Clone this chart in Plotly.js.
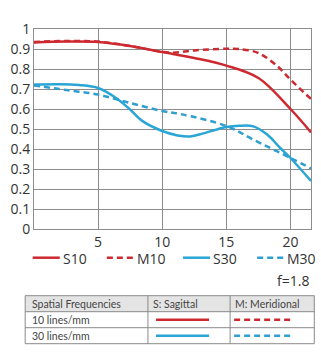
<!DOCTYPE html>
<html><head><meta charset="utf-8">
<script src="https://cdn.plot.ly/plotly-3.0.1.min.js"></script>
<style>body{margin:0;background:#fff}#c{width:321px;height:356px}</style>
</head><body><div id="c"></div>
<script>
// Data
const xS10 = [0, 2.5, 5, 7.5, 10, 12.5, 15, 17.5, 20, 21.6];
const yS10 = [0.933, 0.937, 0.935, 0.915, 0.885, 0.855, 0.817, 0.755, 0.6, 0.483];
const xM10 = [0, 2.5, 5, 7.5, 10, 11, 12.5, 15, 16, 17.5, 19, 20, 21.6];
const yM10 = [0.935, 0.94, 0.937, 0.915, 0.886, 0.882, 0.893, 0.901, 0.9, 0.88, 0.813, 0.747, 0.65];
const xS30 = [0, 2, 3.5, 5, 6.4, 7.5, 8.5, 10, 11.2, 12.2, 13.2, 15, 16, 17.1, 18.2, 19.2, 20, 21.6];
const yS30 = [0.722, 0.724, 0.72, 0.705, 0.655, 0.597, 0.538, 0.49, 0.468, 0.463, 0.478, 0.51, 0.516, 0.513, 0.471, 0.405, 0.355, 0.24];
const xM30 = [0, 2.5, 5, 7.5, 10, 11.4, 15, 17.1, 20, 21.6];
const yM30 = [0.718, 0.695, 0.672, 0.63, 0.59, 0.575, 0.515, 0.447, 0.355, 0.303];
const seriesNames = ['S10', 'M10', 'S30', 'M30'];
const xTicks = [5, 10, 15, 20];
const yTicks = [0, 0.1, 0.2, 0.3, 0.4, 0.5, 0.6, 0.7, 0.8, 0.9, 1];
const yTickText = ['0', '0.1', '0.2', '0.3', '0.4', '0.5', '0.6', '0.7', '0.8', '0.9', '1'];
const tableHeader = ['Spatial Frequencies', 'S: Sagittal', 'M: Meridional'];
const tableRows = ['10 lines/mm', '30 lines/mm'];
const apertureLabel = 'f=1.8';

const RED = '#cc2a30', BLUE = '#2aa6d6', BLUE2 = '#2f9fcf';
const DASH = '6px,4px';
const styles = [
  {color: RED, dash: 'solid'}, {color: RED, dash: DASH},
  {color: BLUE, dash: 'solid'}, {color: BLUE2, dash: DASH}
];
const xs = [xS10, xM10, xS30, xM30], ys = [yS10, yM10, yS30, yM30];

const traces = seriesNames.map((n, i) => ({
  x: xs[i], y: ys[i], name: n, type: 'scatter', mode: 'lines',
  line: {color: styles[i].color, dash: styles[i].dash, width: 2.5, shape: 'spline', smoothing: 1},
  showlegend: false, hoverinfo: 'skip'
}));

// pixel -> paper helpers for decorations
const L = 34.3, R = 310.7, T = 29.3, B = 229.3;
const PX = p => (p - L) / (R - L);
const PY = p => (B - p) / (B - T);
const FONT = '"Open Sans", sans-serif';
const TFONT = 'Lato, sans-serif';

const shapes = [], annotations = [];
// legend
const legX = [33, 107, 183, 257];
seriesNames.forEach((n, i) => {
  shapes.push({type: 'line', xref: 'paper', yref: 'paper', x0: PX(legX[i]), x1: PX(legX[i] + 27),
    y0: PY(258), y1: PY(258), line: {color: styles[i].color, width: 2.5, dash: styles[i].dash}});
  annotations.push({xref: 'paper', yref: 'paper', x: PX(legX[i] + 28), y: PY(258.5), xanchor: 'left', yanchor: 'middle',
    text: n, showarrow: false, font: {family: FONT, size: 14, color: '#333'}});
});
annotations.push({xref: 'paper', yref: 'paper', x: PX(311), y: PY(281), xanchor: 'right', yanchor: 'middle',
  text: apertureLabel, showarrow: false, font: {family: FONT, size: 14, color: '#333'}});

// table
const tL = 25.5, tR = 314, tT = 296, rowH = 16, c1 = 148, c2 = 230;
shapes.push({type: 'rect', xref: 'paper', yref: 'paper', x0: PX(tL), x1: PX(tR), y0: PY(tT), y1: PY(tT + rowH),
  fillcolor: '#e4e4e4', line: {width: 0}, layer: 'below'});
shapes.push({type: 'rect', xref: 'paper', yref: 'paper', x0: PX(tL), x1: PX(tR), y0: PY(tT), y1: PY(tT + 3 * rowH),
  line: {color: '#8a8a8a', width: 1}});
[1, 2].forEach(r => shapes.push({type: 'line', xref: 'paper', yref: 'paper', x0: PX(tL), x1: PX(tR),
  y0: PY(tT + r * rowH), y1: PY(tT + r * rowH), line: {color: '#8a8a8a', width: 1}}));
[c1, c2].forEach(c => shapes.push({type: 'line', xref: 'paper', yref: 'paper', x0: PX(c), x1: PX(c),
  y0: PY(tT), y1: PY(tT + 3 * rowH), line: {color: '#8a8a8a', width: 1}}));
const colTextX = [30, 151, 233];
tableHeader.forEach((t, i) => annotations.push({xref: 'paper', yref: 'paper', x: PX(colTextX[i]), y: PY(tT + rowH / 2),
  xanchor: 'left', yanchor: 'middle', text: t, showarrow: false, font: {family: TFONT, size: 10.5, color: '#444'}}));
tableRows.forEach((t, r) => {
  const cy = tT + (r + 1.5) * rowH;
  annotations.push({xref: 'paper', yref: 'paper', x: PX(30), y: PY(cy), xanchor: 'left', yanchor: 'middle',
    text: t, showarrow: false, font: {family: TFONT, size: 10.5, color: '#444'}});
  const sS = styles[r * 2], sM = styles[r * 2 + 1];
  shapes.push({type: 'line', xref: 'paper', yref: 'paper', x0: PX(156), x1: PX(209), y0: PY(cy), y1: PY(cy),
    line: {color: sS.color, width: 2.5, dash: 'solid'}});
  shapes.push({type: 'line', xref: 'paper', yref: 'paper', x0: PX(234), x1: PX(292), y0: PY(cy), y1: PY(cy),
    line: {color: sM.color, width: 2.5, dash: DASH}});
});

const layout = {
  width: 321, height: 356,
  margin: {l: L, r: 321 - R, t: T, b: 356 - B, pad: 0},
  paper_bgcolor: '#fff', plot_bgcolor: '#fff',
  xaxis: {range: [0, 21.6], tickvals: xTicks, ticktext: xTicks.map(String), showgrid: true, gridcolor: '#8c8c8c',
    gridwidth: 1, zeroline: false, showline: true, linecolor: '#8c8c8c', linewidth: 1, mirror: true, ticks: '',
    tickfont: {family: FONT, size: 14, color: '#333'}, fixedrange: true},
  yaxis: {range: [0, 1], tickvals: yTicks, ticktext: yTickText, showgrid: true, gridcolor: '#8c8c8c',
    gridwidth: 1, zeroline: false, showline: true, linecolor: '#8c8c8c', linewidth: 1, mirror: true, ticks: '',
    tickfont: {family: FONT, size: 14, color: '#333'}, fixedrange: true},
  shapes: shapes, annotations: annotations, showlegend: false
};
Plotly.newPlot('c', traces, layout, {staticPlot: true, displayModeBar: false});
</script></body></html>
